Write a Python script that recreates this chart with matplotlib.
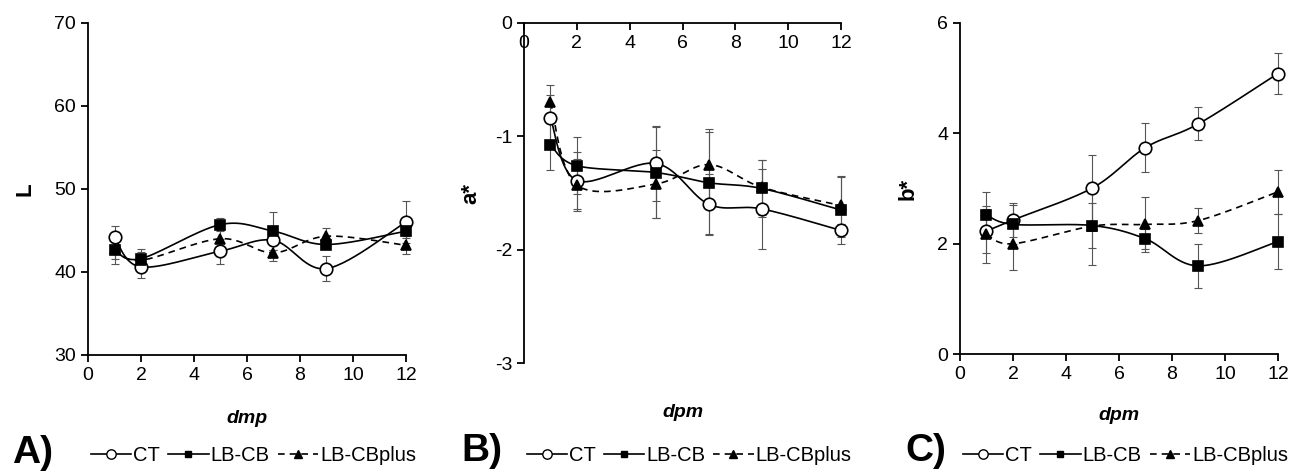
import numpy as np
import matplotlib
matplotlib.use('Agg')
import matplotlib.pyplot as plt
from matplotlib.lines import Line2D

plt.rcParams['font.family'] = ['Liberation Sans', 'DejaVu Sans']
plt.rcParams['axes.unicode_minus'] = False

# sampling days
days = [1, 2, 5, 7, 9, 12]
series = ['CT', 'LB-CB', 'LB-CBplus']

# panel A: L
L_ct = [44.2, 40.6, 42.5, 43.8, 40.4, 46.0]
L_ct_err = [1.3, 1.3, 1.5, 1.2, 1.5, 2.5]
L_cb = [42.6, 41.6, 45.7, 44.9, 43.3, 44.9]
L_cb_err = [1.0, 1.2, 0.8, 2.3, 0.6, 0.8]
L_cbp = [42.7, 41.4, 44.0, 42.3, 44.3, 43.2]
L_cbp_err = [1.8, 1.0, 1.0, 1.0, 1.0, 1.1]

# panel B: a*
a_ct = [-0.84, -1.39, -1.24, -1.60, -1.64, -1.83]
a_ct_err = [0.20, 0.25, 0.33, 0.27, 0.35, 0.06]
a_cb = [-1.08, -1.26, -1.32, -1.41, -1.46, -1.65]
a_cb_err = [0.22, 0.25, 0.40, 0.45, 0.25, 0.30]
a_cbp = [-0.70, -1.43, -1.42, -1.25, -1.45, -1.61]
a_cbp_err = [0.15, 0.23, 0.30, 0.31, 0.24, 0.25]

# panel C: b*
b_ct = [2.23, 2.43, 3.01, 3.74, 4.17, 5.08]
b_ct_err = [0.40, 0.30, 0.60, 0.45, 0.30, 0.37]
b_cb = [2.52, 2.35, 2.33, 2.09, 1.60, 2.04]
b_cb_err = [0.42, 0.35, 0.40, 0.18, 0.40, 0.50]
b_cbp = [2.17, 2.00, 2.32, 2.35, 2.42, 2.94]
b_cbp_err = [0.52, 0.47, 0.70, 0.50, 0.22, 0.40]


def smooth(x, y, n=30):
    # excel style smoothed line (bezier through the points)
    x = np.asarray(x, float)
    y = np.asarray(y, float)
    px = np.concatenate([[x[0]], x, [x[-1]]])
    py = np.concatenate([[y[0]], y, [y[-1]]])
    xs, ys = [], []
    t = np.linspace(0, 1, n)
    for i in range(1, len(px) - 2):
        p0 = np.array([px[i - 1], py[i - 1]])
        p1 = np.array([px[i], py[i]])
        p2 = np.array([px[i + 1], py[i + 1]])
        p3 = np.array([px[i + 2], py[i + 2]])
        c1 = p1 + (p2 - p0) / 6
        c2 = p2 - (p3 - p1) / 6
        pts = ((1 - t) ** 3)[:, None] * p1 + (3 * (1 - t) ** 2 * t)[:, None] * c1 \
            + (3 * (1 - t) * t ** 2)[:, None] * c2 + (t ** 3)[:, None] * p2
        xs.extend(pts[:, 0])
        ys.extend(pts[:, 1])
    return xs, ys


styles = [
    dict(marker='o', mfc='white', ms=9, ls='-'),
    dict(marker='s', mfc='black', ms=6.5, ls='-'),
    dict(marker='^', mfc='black', ms=7.5, ls=(0, (4, 3))),
]

fig = plt.figure(figsize=(13.02, 4.72), dpi=100)
axA = fig.add_axes([0.0676, 0.2479, 0.2442, 0.7040])
axB = fig.add_axes([0.4025, 0.2303, 0.2435, 0.7216])
axC = fig.add_axes([0.7373, 0.2494, 0.2442, 0.7025])

panels = [
    (axA, [L_ct, L_cb, L_cbp], [L_ct_err, L_cb_err, L_cbp_err], (30, 70), [30, 40, 50, 60, 70], 'L', 'dmp'),
    (axB, [a_ct, a_cb, a_cbp], [a_ct_err, a_cb_err, a_cbp_err], (-3, 0), [-3, -2, -1, 0], 'a*', 'dpm'),
    (axC, [b_ct, b_cb, b_cbp], [b_ct_err, b_cb_err, b_cbp_err], (0, 6), [0, 2, 4, 6], 'b*', 'dpm'),
]

for ax, vals, errs, ylim, yt, ylab, xlab in panels:
    for v, e, st in zip(vals, errs, styles):
        eb = ax.errorbar(days, v, yerr=e, fmt='none', ecolor='#555555', elinewidth=0.8,
                         capsize=3, capthick=0.8, zorder=2)
        for art in list(eb.lines[1]) + list(eb.lines[2]):
            art.set_clip_on(False)
        sx, sy = smooth(days, v)
        ax.plot(sx, sy, color='black', lw=1.2, ls=st['ls'], zorder=3, clip_on=False)
        ax.plot(days, v, ls='none', marker=st['marker'], mfc=st['mfc'], mec='black',
                mew=1.2, ms=st['ms'], zorder=4, clip_on=False)
    ax.set_xlim(0, 12)
    ax.set_ylim(*ylim)
    ax.set_xticks(range(0, 13, 2))
    ax.set_yticks(yt)
    ax.spines['top'].set_visible(False)
    ax.spines['right'].set_visible(False)
    ax.spines['left'].set_linewidth(1.3)
    ax.spines['bottom'].set_linewidth(1.3)
    ax.tick_params(labelsize=14, width=1.3, length=5, direction='out')
    ax.set_ylabel(ylab, fontsize=16, fontweight='bold')
    ax.set_xlabel(xlab, fontsize=14, fontweight='bold', style='italic')
    ax.patch.set_alpha(0)

    handles = [Line2D([], [], color='black', lw=1.2, ls=st['ls'], marker=st['marker'],
                      mfc=st['mfc'], mec='black', mew=1.0, ms=st['ms'] * 0.75)
               for st in styles]
    bb = ax.get_position()
    fig.legend(handles, series, loc='center', ncol=3, frameon=False, fontsize=14.5,
               bbox_to_anchor=(bb.x0 + bb.width / 2 + 0.005, 0.034), handlelength=2.0,
               handletextpad=0.1, columnspacing=0.4, numpoints=1)

# B: x axis crosses at 0 (top of the panel)
axB.spines['bottom'].set_position(('data', 0))

axA.yaxis.set_label_coords(-0.165, 0.5)
axB.yaxis.set_label_coords(-0.135, 0.5)
axC.yaxis.set_label_coords(-0.13, 0.5)
axA.xaxis.set_label_coords(0.5, -0.165)
axB.xaxis.set_label_coords(0.5, -0.12)
axC.xaxis.set_label_coords(0.5, -0.16)

fig.text(0.009, 0.04, 'A)', fontsize=28, fontweight='bold', va='center')
fig.text(0.354, 0.045, 'B)', fontsize=28, fontweight='bold', va='center')
fig.text(0.695, 0.045, 'C)', fontsize=28, fontweight='bold', va='center')

fig.savefig('out.png', dpi=100)
